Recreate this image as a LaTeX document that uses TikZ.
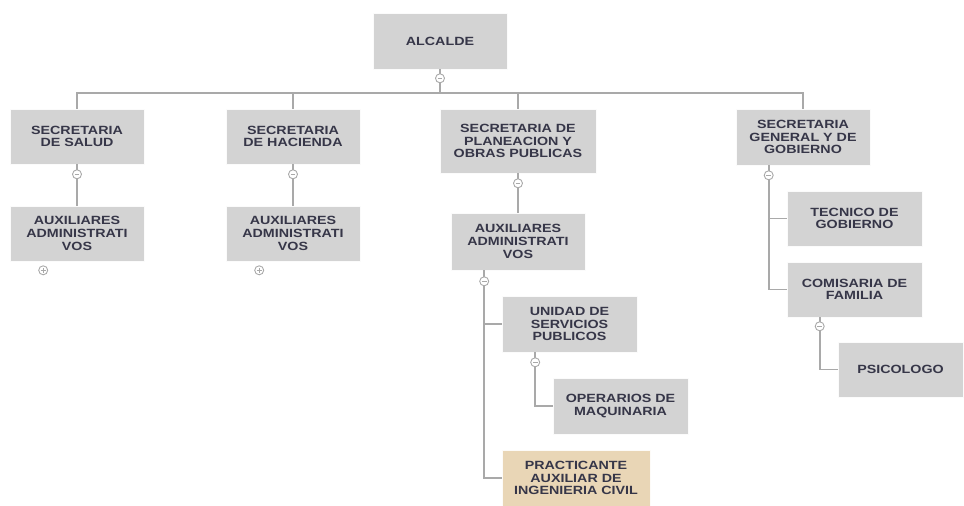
\documentclass[tikz,border=0pt]{standalone}
\usepackage{fontspec}
\setmainfont{Liberation Sans}[FakeStretch=1.2]
\definecolor{boxgray}{HTML}{D3D3D3}
\definecolor{boxtan}{HTML}{E9D6B6}
\definecolor{linegray}{HTML}{A9A9A9}
\definecolor{textdark}{HTML}{363648}

\begin{document}
\begin{tikzpicture}[x=1pt,y=-1pt,
        cargo/.style={fill=boxgray,draw=white!90!boxgray,line width=0.6pt,minimum width=134pt,minimum height=55pt,
            align=center,text=textdark,inner sep=2pt,font=\fontsize{11.9}{12.6}\selectfont\bfseries},
        link/.style={draw=linegray,line width=1.6pt},
        toggle/.style={circle,draw=linegray,fill=white,line width=0.9pt,minimum size=9pt,inner sep=0pt,
            path picture={\draw[linegray,line width=1pt]([xshift=-2.3pt]path picture bounding box.center)--([xshift=2.3pt]path picture bounding box.center);}},
        expand/.style={toggle,
            path picture={\draw[linegray,line width=1pt]([xshift=-2.3pt]path picture bounding box.center)--([xshift=2.3pt]path picture bounding box.center)
                ([yshift=-2.3pt]path picture bounding box.center)--([yshift=2.3pt]path picture bounding box.center);}}]
        \useasboundingbox (0,0) rectangle (964,506);

        \node[cargo,minimum height=56pt] (alcalde) at (440,41) {ALCALDE};

        \node[cargo] (salud) at (77,136.5) {SECRETARIA\\DE SALUD};
        \node[cargo] (hacienda) at (293,136.5) {SECRETARIA\\DE HACIENDA};
        \node[cargo,minimum width=156pt,minimum height=64pt] (planeacion) at (518,141) {SECRETARIA DE\\PLANEACION Y\\OBRAS PUBLICAS};
        \node[cargo,minimum height=56pt] (gobierno) at (803,137) {SECRETARIA\\GENERAL Y DE\\GOBIERNO};

        \node[cargo] (auxsalud) at (77,233.5) {AUXILIARES\\ADMINISTRATI\\VOS};
        \node[cargo] (auxhacienda) at (293,233.5) {AUXILIARES\\ADMINISTRATI\\VOS};
        \node[cargo,minimum height=57pt] (auxplaneacion) at (518,241.5) {AUXILIARES\\ADMINISTRATI\\VOS};

        \node[cargo,minimum width=135pt] (tecnico) at (854.5,218.5) {TECNICO DE\\GOBIERNO};
        \node[cargo,minimum width=135pt] (comisaria) at (854.5,289.5) {COMISARIA DE\\FAMILIA};
        \node[cargo,minimum width=125pt] (psicologo) at (900.5,369.5) {PSICOLOGO};

        \node[cargo,minimum width=135pt,minimum height=56pt] (unidad) at (569.5,324) {UNIDAD DE\\SERVICIOS\\PUBLICOS};
        \node[cargo,minimum width=135pt,minimum height=56pt] (operarios) at (620.5,406) {OPERARIOS DE\\MAQUINARIA};
        \node[cargo,fill=boxtan,draw=white!90!boxtan,minimum width=148pt,minimum height=56pt] (practicante) at (576,478) {PRACTICANTE\\AUXILIAR DE\\INGENIERIA CIVIL};

        \coordinate (bus) at (440,93);
        \draw[link] (alcalde.south) -- (bus);
        \draw[link] (salud.north) |- (bus) -- (bus -| gobierno.north) -- (gobierno.north);
        \draw[link] (hacienda.north) -- (hacienda.north |- bus);
        \draw[link] (planeacion.north) -- (planeacion.north |- bus);

        \draw[link] (salud) -- (auxsalud);
        \draw[link] (hacienda) -- (auxhacienda);
        \draw[link] (planeacion) -- (auxplaneacion);

        \draw[link] ([xshift=33.5]auxplaneacion.south west) |- (unidad.west);
        \draw[link] ([xshift=33.5]auxplaneacion.south west) |- (practicante.west);
        \draw[link] ([xshift=33.5]unidad.south west) |- (operarios.west);
        \draw[link] ([xshift=33]gobierno.south west) |- (tecnico.west);
        \draw[link] ([xshift=33]gobierno.south west) |- (comisaria.west);
        \draw[link] ([xshift=33]comisaria.south west) |- (psicologo.west);

        \node[toggle] (tgalcalde) at ([yshift=-9]alcalde.south) {};
        \node[toggle] (tgsalud) at ([yshift=-10]salud.south) {};
        \node[toggle] (tghacienda) at ([yshift=-10]hacienda.south) {};
        \node[toggle] (tgplaneacion) at ([yshift=-10]planeacion.south) {};
        \node[toggle] (tgaux) at ([xshift=33.5,yshift=-11]auxplaneacion.south west) {};
        \node[toggle] (tgunidad) at ([xshift=33.5,yshift=-10]unidad.south west) {};
        \node[toggle] (tggobierno) at ([xshift=33,yshift=-10]gobierno.south west) {};
        \node[toggle] (tgcomisaria) at ([xshift=33,yshift=-9]comisaria.south west) {};

        \node[expand] (exsalud) at ([xshift=33.5,yshift=-9]auxsalud.south west) {};
        \node[expand] (exhacienda) at ([xshift=33.5,yshift=-9]auxhacienda.south west) {};
    \end{tikzpicture}
\end{document}
